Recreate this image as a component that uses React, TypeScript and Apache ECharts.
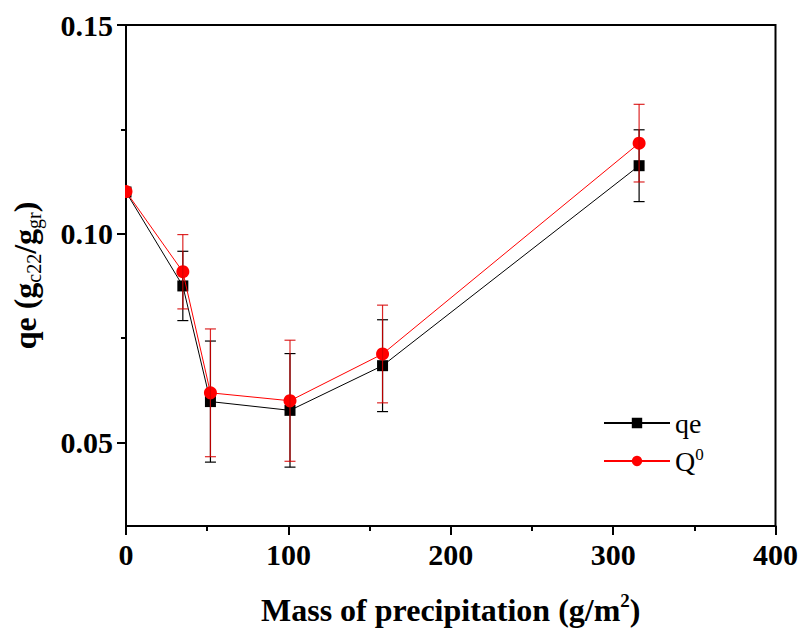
import React, { useEffect, useRef } from "react";
import * as echarts from "echarts";

const xValues = [0, 35, 52, 101, 158, 316];
const qeValues = [0.110, 0.0875, 0.0598, 0.0577, 0.0684, 0.1163];
const qeErrors = [0, 0.0083, 0.0145, 0.0136, 0.011, 0.0086];
const q0Values = [0.1101, 0.0909, 0.0619, 0.0600, 0.0712, 0.1217];
const q0Errors = [0, 0.0089, 0.0153, 0.0145, 0.0117, 0.0093];
const yLabelValues = [0.05, 0.1, 0.15];
const yMinorValues = [0.075, 0.125];

const FONT = "'Liberation Serif', 'Times New Roman', serif";

function errorBarSeries(name: string, values: number[], errs: number[], color: string, z: number) {
  return {
    type: "custom",
    name: name + "_err",
    z,
    silent: true,
    data: xValues.map((x, i) => [x, values[i], errs[i]]),
    renderItem: (params: any, api: any) => {
      const x = api.value(0);
      const y = api.value(1);
      const e = api.value(2);
      if (!e) return null;
      const top = api.coord([x, y + e]);
      const bot = api.coord([x, y - e]);
      const hw = 5.5;
      const style = { stroke: color, lineWidth: 1.2, fill: "none" };
      return {
        type: "group",
        children: [
          { type: "line", shape: { x1: top[0], y1: top[1], x2: bot[0], y2: bot[1] }, style },
          { type: "line", shape: { x1: top[0] - hw, y1: top[1], x2: top[0] + hw, y2: top[1] }, style },
          { type: "line", shape: { x1: bot[0] - hw, y1: bot[1], x2: bot[0] + hw, y2: bot[1] }, style },
        ],
      };
    },
  };
}

export default function App() {
  const ref = useRef<HTMLDivElement>(null);
  useEffect(() => {
    if (!ref.current) return;
    const chart = echarts.init(ref.current, null, { renderer: "svg" });
    const grid = { left: 126, top: 25, width: 651, height: 502 };
    const option: any = {
      animation: false,
      backgroundColor: "#fff",
      grid: { ...grid, show: true, borderColor: "#000", borderWidth: 2, backgroundColor: "transparent" },
      legend: {
        orient: "vertical",
        left: 603,
        top: 409,
        padding: 0,
        itemWidth: 66,
        itemHeight: 13,
        itemGap: 9,
        data: ["qe", "Q0"],
        formatter: (name: string) => (name === "Q0" ? "{t|Q}{s|0}" : "{t|qe}"),
        textStyle: {
          fontFamily: FONT,
          fontSize: 28,
          color: "#000",
          rich: {
            t: { fontFamily: FONT, fontSize: 28, lineHeight: 30, color: "#000" },
            s: { fontFamily: FONT, fontSize: 17, lineHeight: 17, verticalAlign: "top", color: "#000" },
          },
        },
      },
      xAxis: {
        type: "value",
        min: 0,
        max: 400,
        interval: 100,
        name: "{m|Mass of precipitation (g/m}{p|2}{m|)}",
        nameLocation: "middle",
        nameGap: 65,
        nameTextStyle: {
          rich: {
            m: { fontFamily: FONT, fontWeight: "bold", fontSize: 32, lineHeight: 38, color: "#000" },
            p: { fontFamily: FONT, fontWeight: "bold", fontSize: 19, lineHeight: 20, verticalAlign: "top", color: "#000" },
          },
        },
        axisLine: { lineStyle: { color: "#000", width: 2 } },
        axisTick: { inside: false, length: 9, lineStyle: { color: "#000", width: 2 } },
        minorTick: { show: true, splitNumber: 2, length: 5, lineStyle: { color: "#000", width: 2 } },
        axisLabel: { margin: 13, fontFamily: FONT, fontWeight: "bold", fontSize: 30, color: "#000" },
        splitLine: { show: false },
      },
      yAxis: [
        {
          type: "value",
          min: 0.03,
          max: 0.15,
          name: "{m|qe (g}{s|c22}{m|/g}{s|gr}{m|)}",
          nameLocation: "middle",
          nameGap: 82,
          nameTextStyle: {
            rich: {
              m: { fontFamily: FONT, fontWeight: "bold", fontSize: 32, lineHeight: 38, color: "#000" },
              s: { fontFamily: FONT, fontWeight: "normal", fontSize: 20, lineHeight: 18, verticalAlign: "bottom", color: "#000" },
            },
          },
          axisLine: { lineStyle: { color: "#000", width: 2 } },
          axisTick: { inside: false, length: 9, customValues: yLabelValues, lineStyle: { color: "#000", width: 2 } },
          axisLabel: {
            margin: 13,
            customValues: yLabelValues,
            formatter: (v: number) => v.toFixed(2),
            fontFamily: FONT,
            fontWeight: "bold",
            fontSize: 30,
            color: "#000",
          },
          splitLine: { show: false },
        },
        {
          type: "value",
          min: 0.03,
          max: 0.15,
          position: "left",
          axisLine: { show: false },
          axisTick: { show: true, inside: false, length: 5, customValues: yMinorValues, lineStyle: { color: "#000", width: 2 } },
          axisLabel: { show: false },
          splitLine: { show: false },
        },
      ],
      series: [
        {
          type: "line",
          name: "qe",
          data: xValues.map((x, i) => [x, qeValues[i]]),
          symbol: "rect",
          symbolSize: 11,
          itemStyle: { color: "#000" },
          lineStyle: { color: "#000", width: 1 },
          z: 2,
        },
        errorBarSeries("qe", qeValues, qeErrors, "#000", 3),
        {
          type: "line",
          name: "Q0",
          data: xValues.map((x, i) => [x, q0Values[i]]),
          symbol: "circle",
          symbolSize: 13,
          itemStyle: { color: "#ff0000" },
          lineStyle: { color: "#ff0000", width: 1 },
          z: 4,
        },
        errorBarSeries("Q0", q0Values, q0Errors, "rgba(215,0,0,0.85)", 5),
      ],
      graphic: [
        {
          type: "rect",
          z: 100,
          shape: { x: 110, y: 180, width: 15, height: 26 },
          style: { fill: "#fff" },
        },
      ],
    };
    chart.setOption(option);
    return () => chart.dispose();
  }, []);
  return <div ref={ref} style={{ position: "absolute", left: 0, top: 0, width: 801, height: 631 }} />;
}
